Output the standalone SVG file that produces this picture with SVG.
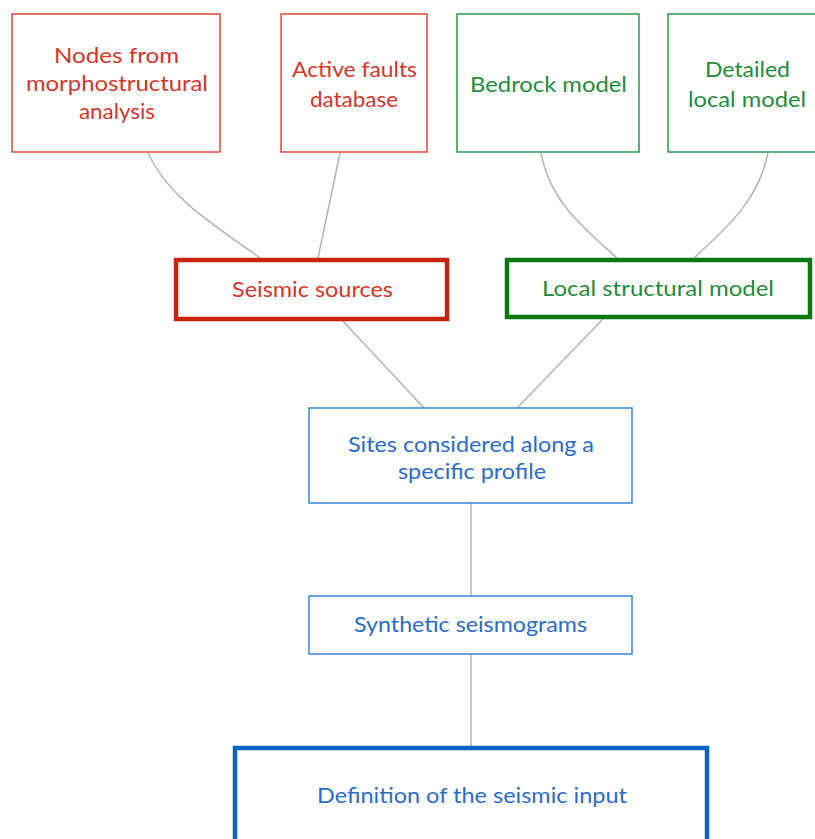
<svg xmlns="http://www.w3.org/2000/svg" width="815" height="839" viewBox="0 0 815 839">
<style>
text{font-family:Lato,"Open Sans","Liberation Sans",sans-serif;font-size:21px;text-anchor:middle}
.r rect{fill:#fff;stroke:#e0473a;stroke-width:1.5}
.r text{fill:#d8342a}
.rt rect{fill:#fff;stroke:#c8240c;stroke-width:4.5}
.rt text{fill:#d8342a}
.g rect{fill:#fff;stroke:#2a9a48;stroke-width:1.5}
.g text{fill:#1f8c3c}
.gt rect{fill:#fff;stroke:#0a780f;stroke-width:4.5}
.gt text{fill:#1f8c3c}
.b rect{fill:#fff;stroke:#3a84dc;stroke-width:1.5}
.b text{fill:#2a6ccc}
.bt rect{fill:#fff;stroke:#0b63c8;stroke-width:4.5}
.bt text{fill:#2a6ccc}
.c path{fill:none;stroke:#b4b4b4;stroke-width:1.5}
</style>
<rect width="815" height="839" fill="#fff"/>
<g class="c" id="connectors">
<path d="M148,153 C170,200 215,225 260,258"/>
<path d="M340,153 L318,258"/>
<path d="M541,153 C550,200 580,225 617,258"/>
<path d="M768,153 C758,200 730,225 694,258"/>
<path d="M342,320 L424,408"/>
<path d="M603,319 L517,408"/>
<path d="M471,503 L471,596"/>
<path d="M471,654 L471,747"/>
</g>
<g class="r" id="n-nodes">
<rect x="12" y="14" width="208" height="138"/>
<text x="116.5" y="63" textLength="125" lengthAdjust="spacingAndGlyphs">Nodes from</text>
<text x="117" y="91" textLength="182" lengthAdjust="spacingAndGlyphs">morphostructural</text>
<text x="117" y="119" textLength="76" lengthAdjust="spacingAndGlyphs">analysis</text>
</g>
<g class="r" id="n-faults">
<rect x="281" y="14" width="146" height="138"/>
<text x="354.5" y="77" textLength="125" lengthAdjust="spacingAndGlyphs">Active faults</text>
<text x="354" y="107" textLength="88" lengthAdjust="spacingAndGlyphs">database</text>
</g>
<g class="g" id="n-bedrock">
<rect x="457" y="14" width="182" height="138"/>
<text x="548.5" y="92" textLength="157" lengthAdjust="spacingAndGlyphs">Bedrock model</text>
</g>
<g class="g" id="n-detailed">
<rect x="668" y="14" width="160" height="138"/>
<text x="747.5" y="77" textLength="85" lengthAdjust="spacingAndGlyphs">Detailed</text>
<text x="747" y="107" textLength="118" lengthAdjust="spacingAndGlyphs">local model</text>
</g>
<g class="rt" id="n-sources">
<rect x="176" y="260" width="271" height="59"/>
<text x="312.5" y="297" textLength="161" lengthAdjust="spacingAndGlyphs">Seismic sources</text>
</g>
<g class="gt" id="n-local">
<rect x="507" y="260" width="303" height="57"/>
<text x="658" y="296" textLength="232" lengthAdjust="spacingAndGlyphs">Local structural model</text>
</g>
<g class="b" id="n-sites">
<rect x="309" y="408" width="323" height="95"/>
<text x="471" y="452" textLength="246" lengthAdjust="spacingAndGlyphs">Sites considered along a</text>
<text x="472" y="479" textLength="148" lengthAdjust="spacingAndGlyphs">specific profile</text>
</g>
<g class="b" id="n-synthetic">
<rect x="309" y="596" width="323" height="58"/>
<text x="470.5" y="632" textLength="233" lengthAdjust="spacingAndGlyphs">Synthetic seismograms</text>
</g>
<g class="bt" id="n-definition">
<rect x="235" y="748" width="472" height="100"/>
<text x="472" y="803" textLength="310" lengthAdjust="spacingAndGlyphs">Definition of the seismic input</text>
</g>
</svg>
